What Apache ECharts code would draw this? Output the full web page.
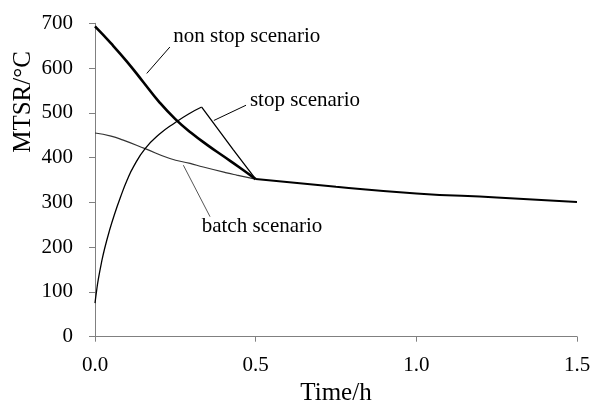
<!DOCTYPE html>
<html><head><meta charset="utf-8">
<script src="https://cdn.jsdelivr.net/npm/echarts@6/dist/echarts.min.js"></script>
<style>html,body{margin:0;padding:0;background:#fff}#c{width:594px;height:401px}</style>
</head><body><div id="c"></div>
<script>
// Time (h) and MTSR (°C) values
var nonStop = [[0,693],[0.05,655],[0.1,614],[0.15,569],[0.2,524],[0.25,486],[0.3,455],[0.35,428],[0.4,403],[0.45,378],[0.5,352]];
var stopRise = [[0,75],[0.005,103],[0.01,127],[0.02,165],[0.03,197],[0.045,237],[0.06,272],[0.08,313],[0.1,350],[0.12,380],[0.156,420],[0.2,452],[0.249,478],[0.29,497],[0.332,513]];
var stopFall = [[0.332,513],[0.43,418],[0.5,352]];
var batch = [[0,455],[0.05,448],[0.088,439],[0.156,420],[0.233,398],[0.296,387],[0.337,379],[0.41,366],[0.441,361],[0.5,352]];
var common = [[0.5,352],[0.75,335],[1.0,320],[1.25,311],[1.5,301]];
var xTicks = [0, 0.5, 1.0, 1.5];
var yTicks = [0, 100, 200, 300, 400, 500, 600, 700];
var labels = ['non stop scenario', 'stop scenario', 'batch scenario'];
var labelPos = [[0.2436, 670], [0.482, 528], [0.332, 247]];
var leaders = [[[0.161, 588], [0.233, 647]], [[0.37, 483], [0.47, 517]], [[0.275, 383], [0.358, 268]]];

var F = '"Liberation Serif","Times New Roman",serif';
var chart = echarts.init(document.getElementById('c'));
function ann(i, color) {
  return {
    markLine: { silent: true, symbol: 'none', label: {show: false},
      lineStyle: {color: color, width: 1, type: 'solid'},
      data: [[{coord: leaders[i][0]}, {coord: leaders[i][1]}]] },
    markPoint: { silent: true, symbol: 'circle', symbolSize: 0,
      label: {show: true, position: 'right', distance: 0, formatter: labels[i], fontFamily: F, fontSize: 21, color: '#000'},
      data: [{coord: labelPos[i]}] }
  };
}
var sBatch = Object.assign({name: 'batch scenario', type: 'line', data: batch, showSymbol: false, smooth: true, lineStyle: {color: '#333', width: 1.2}, z: 2}, ann(2, '#555'));
var sStopR = Object.assign({name: 'stop scenario', type: 'line', data: stopRise, showSymbol: false, smooth: true, lineStyle: {color: '#000', width: 1.3}, z: 3}, ann(1, '#000'));
var sStopF = {name: 'stop scenario', type: 'line', data: stopFall, showSymbol: false, smooth: false, lineStyle: {color: '#000', width: 1.3}, z: 3};
var sNon = Object.assign({name: 'non stop scenario', type: 'line', data: nonStop, showSymbol: false, smooth: true, lineStyle: {color: '#000', width: 2.6}, z: 4}, ann(0, '#000'));
var sCommon = {name: 'common', type: 'line', data: common, showSymbol: false, smooth: true, lineStyle: {color: '#000', width: 2}, z: 4};
chart.setOption({
  animation: false,
  grid: {left: 95, right: 17, top: 23.3, bottom: 64.3, containLabel: false, outerBoundsMode: 'none'},
  xAxis: {type: 'value', min: 0, max: 1.5, interval: 0.5,
    axisLine: {lineStyle: {color: '#808080'}}, axisTick: {length: 5, lineStyle: {color: '#808080'}},
    splitLine: {show: false},
    axisLabel: {margin: 18, fontFamily: F, fontSize: 21, color: '#000', formatter: function(v){ return v.toFixed(1); }},
    name: 'Time/h', nameLocation: 'middle', nameGap: 44, nameTextStyle: {fontFamily: F, fontSize: 25, color: '#000'}},
  yAxis: {type: 'value', min: 0, max: 700, interval: 100,
    axisLine: {show: true, lineStyle: {color: '#808080'}}, axisTick: {show: true, length: 6, lineStyle: {color: '#808080'}},
    splitLine: {show: false},
    axisLabel: {margin: 22, fontFamily: F, fontSize: 21, color: '#000'}},
  graphic: [{type: 'text', x: 23, y: 102, rotation: Math.PI/2,
    style: {text: 'MTSR/°C', font: '25px ' + F, fill: '#000', align: 'center', verticalAlign: 'middle'}}],
  series: [sBatch, sStopR, sStopF, sNon, sCommon]
});
</script></body></html>
